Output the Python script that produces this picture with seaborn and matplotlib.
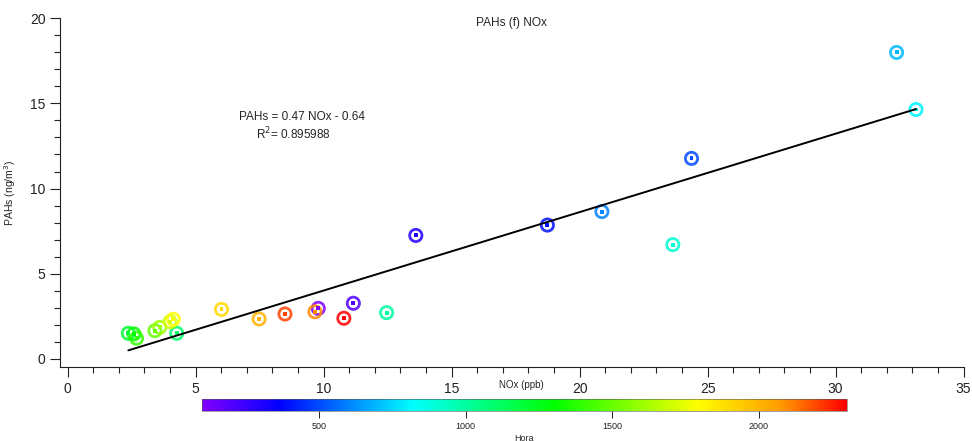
import numpy as np
import pandas as pd
import matplotlib
matplotlib.use("Agg")
import matplotlib.pyplot as plt
import seaborn as sns
from matplotlib.colors import LinearSegmentedColormap, Normalize
from matplotlib.ticker import MultipleLocator

# ---- data ----
nox = [9.79, 11.16, 13.6, 18.74, 24.37, 20.87, 32.38, 33.14, 23.64, 12.46,
       4.26, 2.37, 2.59, 2.69, 3.41, 3.6, 4.0, 4.13, 6.01, 7.48, 9.66, 8.49, 10.79]
pahs = [2.97, 3.27, 7.25, 7.86, 11.77, 8.65, 17.99, 14.64, 6.71, 2.72,
        1.51, 1.51, 1.47, 1.22, 1.66, 1.86, 2.19, 2.33, 2.91, 2.35, 2.77, 2.64, 2.39]
hora = [100, 200, 300, 400, 500, 600, 700, 800, 900, 1000,
        1100, 1200, 1300, 1400, 1500, 1600, 1700, 1800, 1900, 2000, 2100, 2200, 2300]
cbar_ticks = [500, 1000, 1500, 2000]
eq_text = "PAHs = 0.47 NOx - 0.64"
r2_text = "R$^2$= 0.895988"

df = pd.DataFrame({"NOx": nox, "PAHs": pahs, "Hora": hora})

sns.set_style("white")
plt.rcParams["font.family"] = ["Liberation Sans", "DejaVu Sans"]

cmap = LinearSegmentedColormap.from_list(
    "igor_rainbow",
    [(0.0, "#8000ff"), (0.12, "#0000ff"), (0.327, "#00ffff"),
     (0.546, "#00ff00"), (0.771, "#ffff00"), (0.90, "#ff9900"), (1.0, "#ff0000")])
norm = Normalize(vmin=100, vmax=2300)

fig = plt.figure(figsize=(9.72, 4.41), dpi=100)
ax = fig.add_axes([0.0617, 0.1678, 0.9297, 0.791])

# regression line
sns.regplot(data=df, x="NOx", y="PAHs", scatter=False, ci=None, truncate=True,
            line_kws=dict(color="black", lw=1.4), ax=ax)

# ring markers
sns.scatterplot(data=df, x="NOx", y="PAHs", hue="Hora", palette=cmap, hue_norm=norm,
                marker="o", s=78, linewidth=2.0, legend=False, ax=ax)
coll = ax.collections[-1]
fc = coll.get_facecolors()
fc[:, 3] = 0.85
coll.set_edgecolors(fc)
coll.set_facecolors("none")
# center dots
sns.scatterplot(data=df, x="NOx", y="PAHs", hue="Hora", palette=cmap, hue_norm=norm,
                marker="s", s=8, linewidth=0, legend=False, ax=ax)

ax.set_xlim(-0.3, 35)
ax.set_ylim(-0.47, 20)
ax.xaxis.set_major_locator(MultipleLocator(5))
ax.xaxis.set_minor_locator(MultipleLocator(1))
ax.yaxis.set_major_locator(MultipleLocator(5))
ax.yaxis.set_minor_locator(MultipleLocator(1))
ax.tick_params(which="major", direction="out", length=7, width=0.8, labelsize=10,
               colors="#222222", bottom=True, left=True)
ax.tick_params(which="minor", direction="out", length=4, width=0.8,
               bottom=True, left=True, color="#222222")
for s in ["top", "right"]:
    ax.spines[s].set_visible(False)
for s in ["left", "bottom"]:
    ax.spines[s].set_color("#222222")
    ax.spines[s].set_linewidth(0.8)

ax.set_xlabel("NOx (ppb)", fontsize=7)
ax.xaxis.set_label_coords(0.511, -0.052)
ax.xaxis.label.set_verticalalignment("center")
ax.set_ylabel("PAHs (ng/m$^3$)", fontsize=7.6)
ax.yaxis.set_label_coords(-0.046, 0.5)
ax.set_title("PAHs (f) NOx", fontsize=8.6, pad=-2, y=1.0)
ax.title.set_position((0.5, 0.985))

ax.text(9.15, 14.2, eq_text, fontsize=8.5, ha="center", va="center")
ax.text(7.35, 13.2, r2_text, fontsize=8.5, ha="left", va="center")

# colorbar
cax = fig.add_axes([0.2074, 0.068, 0.664, 0.027])
sm = plt.cm.ScalarMappable(cmap=cmap, norm=norm)
cb = fig.colorbar(sm, cax=cax, orientation="horizontal", ticks=cbar_ticks)
cb.outline.set_linewidth(0.4)
cb.outline.set_edgecolor("#555555")
cax.tick_params(direction="out", length=5, width=0.7, labelsize=6.5, pad=3, colors="#222222")
cb.set_label("Hora", fontsize=6.5, labelpad=2)

fig.savefig("out.png", dpi=100)
